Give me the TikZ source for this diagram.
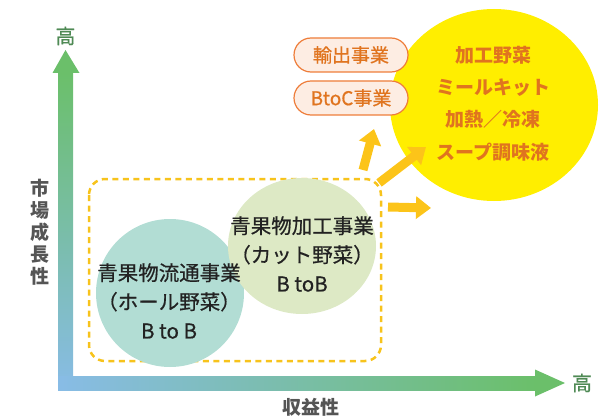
\documentclass[tikz,border=0pt]{standalone}
\usepackage{fontspec}
\setmainfont{Noto Sans CJK JP}
\newfontfamily\jpmed[FakeBold=0.6]{Noto Sans CJK JP}
\usetikzlibrary{arrows.meta,shapes.geometric}
\definecolor{axgreen}{HTML}{6BBF6A}
\definecolor{axblue}{HTML}{88BCE6}
\definecolor{lblgreen}{HTML}{4F8A55}
\definecolor{lblgray}{HTML}{555555}
\definecolor{dashy}{HTML}{F7C31C}
\definecolor{tealc}{HTML}{B2DDD4}
\definecolor{lgreenc}{HTML}{DDE9C5}
\definecolor{bigy}{HTML}{FFEE00}
\definecolor{orangetxt}{HTML}{E0741F}
\definecolor{pillfill}{HTML}{FDEDE3}
\definecolor{pilldraw}{HTML}{EE7D3A}
\definecolor{arry}{HTML}{FCC419}
\definecolor{darktxt}{HTML}{222222}
\tikzset{
  axlabel/.style={text=lblgreen,font=\jpmed\fontsize{20}{20}\selectfont},
  circtxt/.style={align=center,text=darktxt,font=\jpmed\fontsize{20.5}{29}\selectfont},
  pill/.style={draw=pilldraw,line width=1.2pt,fill=pillfill,rounded corners=17pt,minimum width=114pt,minimum height=34pt,text=orangetxt,font=\jpmed\fontsize{19}{19}\selectfont,inner sep=0pt},
  blockarrow/.style={draw=arry,line width=9pt,-{Triangle[width=22pt,length=15pt]}},
}
\begin{document}
\begin{tikzpicture}[x=1pt,y=-1pt]
\useasboundingbox (0,0) rectangle (599,417);
% axes
\shade[top color=axgreen,bottom color=axblue] (58,73) rectangle (73,390);
\shade[left color=axblue,right color=axgreen] (58,376) rectangle (535,390);
\fill[axgreen] (52.5,73) -- (79.5,73) -- (65.5,50) -- cycle;
\fill[axgreen] (535,369.5) -- (535,396.5) -- (565,383) -- cycle;
\node[axlabel] (yhigh) at (65.5,36) {高};
\node[axlabel] (xhigh) at (582,383) {高};
\node[align=center,text=lblgray,font=\bfseries\fontsize{19}{22}\selectfont] (ylab) at (40,232) {市\\場\\成\\長\\性};
\node[text=lblgray,font=\bfseries\fontsize{19}{19}\selectfont] (xlab) at (311,407) {収益性};
% dashed region
\draw[dashy,line width=2.5pt,dash pattern=on 6pt off 4.5pt,rounded corners=16pt] (89,179) rectangle (381,361);
% circles
\fill[tealc] (170,293) circle[radius=74];
\fill[lgreenc] (302,246) ellipse[x radius=74,y radius=68];
\node[circtxt] (c1) at (169,301) {青果物流通事業\\（ホール野菜）\\B to B};
\node[circtxt] (c2) at (302,254) {青果物加工事業\\（カット野菜）\\B toB};
% big circle
\fill[bigy] (494,105) ellipse[x radius=104,y radius=96];
\node[align=center,text=orangetxt,font=\bfseries\fontsize{19}{32.3}\selectfont] (big) at (493,103.5) {加工野菜\\ミールキット\\加熱／冷凍\\スープ調味液};
% pills
\node[pill] (p1) at (351,55) {輸出事業};
\node[pill] (p2) at (351,98) {BtoC事業};
% arrows
\coordinate (a1s) at (363,170);
\coordinate (a1e) at (374,129);
\coordinate (a2s) at (379,183);
\coordinate (a2e) at (426,147);
\coordinate (a3s) at (388,207);
\coordinate (a3e) at (431,208);
\draw[blockarrow] (a1s) -- (a1e);
\draw[blockarrow] (a2s) -- (a2e);
\draw[blockarrow] (a3s) -- (a3e);
\end{tikzpicture}
\end{document}
